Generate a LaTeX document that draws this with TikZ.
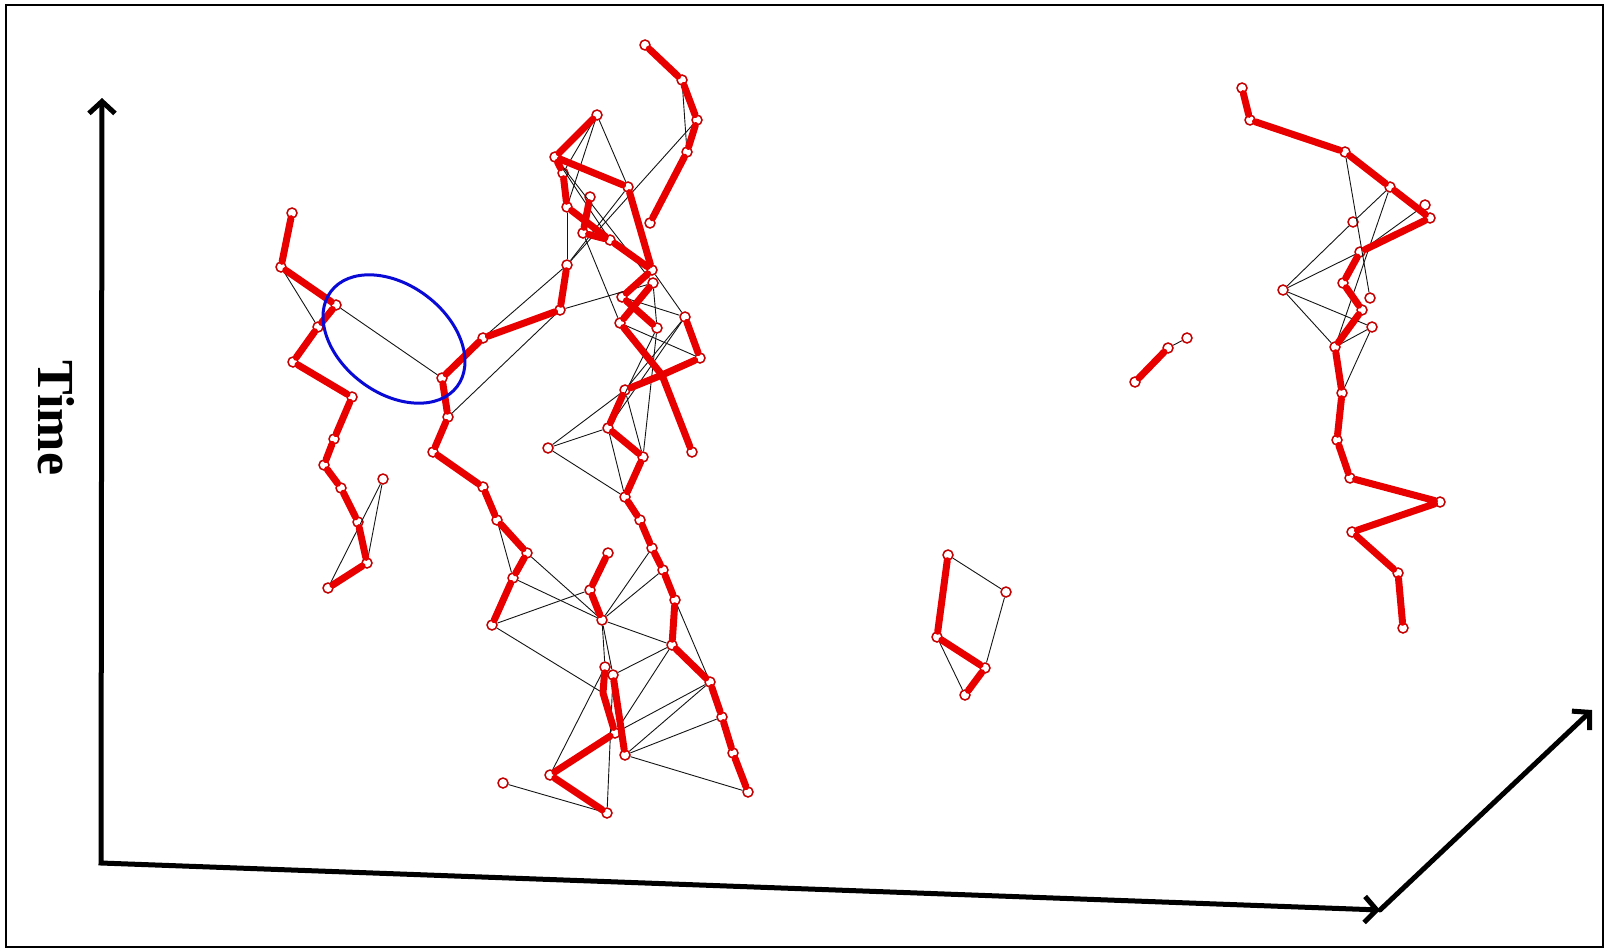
\documentclass[tikz,border=0pt]{standalone}
\usepackage{fontspec}
\setmainfont{Liberation Serif}
\usepackage{tikz}
\usetikzlibrary{arrows.meta}
\definecolor{trackred}{RGB}{232, 0, 0}
\definecolor{ringblue}{RGB}{10, 10, 215}
\definecolor{inkblack}{RGB}{20, 20, 20}
\tikzset{
    vtx/.style  ={circle, draw=trackred!85!black, line width=1.5pt, minimum size=10pt,
                  inner sep=0pt},
    bond/.style ={draw=trackred, line width=7pt, line cap=round, line join=round},
    link/.style ={draw=inkblack, line width=0.9pt},
    barb/.tip   ={Straight Barb[length=12pt, width=26pt]},
    axis/.style ={draw=black, line width=5pt, line cap=round, line join=miter, -barb},
    ring/.style ={draw=ringblue, line width=3pt},
    lbl/.style  ={font=\fontsize{52}{52}\selectfont\bfseries, inner sep=0pt}
}

\begin{document}
\begin{tikzpicture}[x=1pt, y=-1pt]
  \useasboundingbox (0,0) rectangle (1606,950);
  \draw[line width=2pt] (6,5) rectangle (1603,947);

  % axes
  \coordinate (org)  at (101,863);
  \coordinate (ytip) at (102,98);
  \coordinate (xtip) at (1380,910);
  \coordinate (ztip) at (1592,710);
  \draw[axis, barb-barb] (ytip) -- (org) -- (xtip);
  \draw[axis] (xtip) -- (ztip);
  \node[lbl, rotate=-90] (time) at (56,418) {Time};

  % track points
  \foreach \n/\x/\y in {a1/292/213, a2/281/267, a3/336/305, a4/318/327, a5/293/362,
      a6/352/397, a7/334/439, a8/324/465, a9/341/488, a10/358/522, a11/367/563,
      a12/328/588, a13/383/479,
      c1/442/378, c2/448/417, c3/433/452, c4/483/487, c5/497/520, c6/527/553,
      c7/513/578, c8/492/625, b1/483/338, b2/560/310, b3/567/265,
      h1/645/45, h2/682/80, h3/697/120, h4/687/152, h5/650/223,
      t1/597/115, t2/555/157, t3/563/173, t4/567/207, t5/590/197, t6/583/233,
      t7/610/240, t8/628/187, t9/652/270, t10/653/283, t11/622/297, t12/657/328,
      t13/685/317, t14/620/323, t15/700/358, t17/625/390, t18/608/428,
      t19/643/457, t20/692/452, t21/625/497, t22/548/448,
      l1/608/553, l2/590/590, l3/602/620, l4/605/667, l5/613/675, l6/615/733,
      l7/625/755, l8/550/775, l9/607/813, l10/503/783,
      r1/640/520, r2/652/548, r3/663/570, r4/675/600, r5/672/645, r6/710/682,
      r7/722/717, r8/733/753, r9/748/792,
      s1/948/555, s2/1006/592, s3/937/637, s4/985/668, s5/965/695,
      u1/1187/338, u2/1168/348, u3/1135/382,
      q1/1242/88, q2/1250/120, q3/1345/152, q4/1390/187, q5/1425/205,
      q6/1430/218, q7/1353/222, q8/1360/252, q9/1283/290, q10/1343/283,
      q11/1370/298, q12/1362/310, q13/1372/327, q14/1335/347, q15/1342/393,
      q16/1337/440, q17/1350/478, q18/1440/502, q19/1352/532, q20/1398/573,
      q21/1403/628}
    \node[vtx] (\n) at (\x,\y) {};
  \coordinate (t16) at (662,375);
  \coordinate (l4b) at (603,693);

  % thin links between tracks
  \foreach \p/\q in {a2/a4, a3/c1, a13/a12, a13/a11, c2/b2, b1/b3, c5/c7,
      t1/t4, t1/t3, t1/t8, t2/t7, t2/t10, t4/b3, h3/b3, h2/h4, b3/t8, b2/t10,
      t6/t14, t9/t13, t10/t12, t11/t13, t13/t17, t13/t18, t12/t18, t12/t19,
      t14/t15, t22/t17, t22/t18, t22/t21, t18/t21, t17/t19,
      l3/l4, l3/l5, l10/l9, l9/l5, l8/l4, c6/l3, c7/l3, c8/l2, c8/l4b,
      l3/r2, l3/r3, l3/r5, l5/r5, l6/r5, l6/r6, l7/r6, l7/r7, l7/r9, r4/r6,
      q3/q11, q4/q7, q7/q9, q4/q14, q5/q8, q9/q8, q9/q13, q9/q14, q13/q14,
      q13/q15, s1/s2, s2/s4, s3/s5, u1/u2}
    \draw[link] (\p) -- (\q);

  % red tracks
  \draw[bond] (a1) -- (a2) -- (a3) -- (a4) -- (a5) -- (a6) -- (a7) -- (a8)
              -- (a9) -- (a10) -- (a11) -- (a12);
  \draw[bond] (b3) -- (b2) -- (b1) -- (c1) -- (c2) -- (c3) -- (c4) -- (c5)
              -- (c6) -- (c7) -- (c8);
  \draw[bond] (h1) -- (h2) -- (h3) -- (h4) -- (h5);
  \draw[bond] (t1) -- (t2) -- (t8) -- (t9) -- (t11) -- (t12);
  \draw[bond] (t2) -- (t3) -- (t4) -- (t7) -- (t9);
  \draw[bond] (t5) -- (t6) -- (t7);
  \draw[bond] (t10) -- (t14) -- (t16) -- (t20);
  \draw[bond] (t13) -- (t15) -- (t16) -- (t17) -- (t18) -- (t19) -- (t21)
              -- (r1) -- (r2) -- (r3) -- (r4) -- (r5) -- (r6) -- (r7) -- (r8) -- (r9);
  \draw[bond] (l1) -- (l2) -- (l3);
  \draw[bond] (l4) -- (l4b) -- (l6) -- (l8) -- (l9);
  \draw[bond] (l5) -- (l7);
  \draw[bond] (s1) -- (s3) -- (s4) -- (s5);
  \draw[bond] (u2) -- (u3);
  \draw[bond] (q1) -- (q2) -- (q3) -- (q4) -- (q6) -- (q8) -- (q10) -- (q12)
              -- (q14) -- (q15) -- (q16) -- (q17) -- (q18) -- (q19) -- (q20) -- (q21);

  % marked link
  \draw[ring, rotate around={-37:(394,339)}] (394,339) ellipse [x radius=79, y radius=54];
\end{tikzpicture}
\end{document}
